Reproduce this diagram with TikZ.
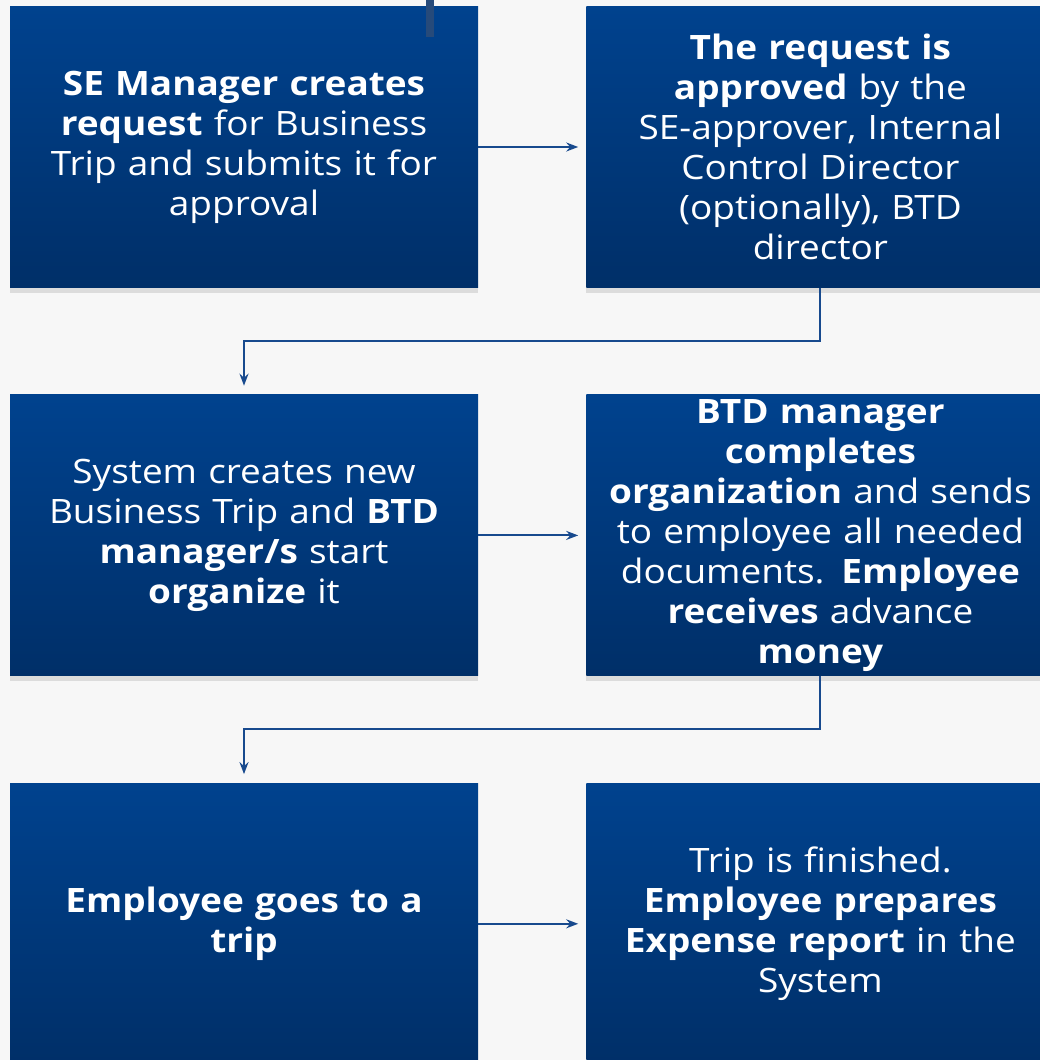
\documentclass[tikz,border=0pt]{standalone}
\usepackage{fontspec}
\setmainfont{Open Sans}[FakeStretch=1.1]
\usepackage{tikz}
\usetikzlibrary{arrows.meta,positioning,shadows}
\definecolor{boxtop}{RGB}{0,66,142}
\definecolor{boxbot}{RGB}{0,47,104}
\definecolor{flowln}{RGB}{24,74,142}
\definecolor{pagebg}{RGB}{247,247,247}
\definecolor{tabbar}{RGB}{38,74,122}
\tikzset{
  stepbox/.style={rectangle,minimum width=468pt,minimum height=281pt,inner sep=0pt,
                  text width=450pt,align=center,text=white,
                  top color=boxtop,bottom color=boxbot,
                  drop shadow={shadow xshift=0pt,shadow yshift=-5pt,opacity=.22},
                  font=\fontsize{33.6}{40}\selectfont},
  flow/.style={-{Stealth[length=12pt,width=9pt,inset=4pt]},line width=2pt,flowln},
}

\begin{document}
\begin{tikzpicture}[x=1pt,y=1pt]
  \useasboundingbox (0,0) rectangle (1040,-1060);
  \clip (0,0) rectangle (1040,-1060);
  \fill[pagebg] (0,0) rectangle (1040,-1060);
  % first row
  \node[stepbox] (request) at (244,-147)
    {\textbf{SE Manager creates}\\\textbf{request} for Business\\Trip and submits it for\\approval};
  \node[stepbox,right=108pt of request] (approve)
    {\textbf{The request is}\\\textbf{approved} by the\\SE-approver, Internal\\Control Director\\(optionally), BTD\\director};
  % second row
  \node[stepbox,below=107pt of request] (create)
    {System creates new\\Business Trip and \textbf{BTD}\\\textbf{manager/s} start\\\textbf{organize} it};
  \node[stepbox,right=108pt of create] (complete)
    {\textbf{BTD manager}\\\textbf{completes}\\\textbf{organization} and sends\\to employee all needed\\documents. \textbf{Employee}\\\textbf{receives} advance\\\textbf{money}};
  % third row
  \node[stepbox,below=107pt of create] (trip)
    {\textbf{Employee goes to a}\\\textbf{trip}};
  \node[stepbox,right=108pt of trip] (report)
    {Trip is finished.\\\textbf{Employee prepares}\\\textbf{Expense report} in the\\System};
  % small tab at top
  \fill[tabbar] (426,0) rectangle (434,-37);
  % connectors
  \draw[flow,shorten >=8pt] (request) -- (approve);
  \draw[flow,shorten >=8pt] (create) -- (complete);
  \draw[flow,shorten >=8pt] (trip) -- (report);
  \draw[flow,shorten >=9pt] (approve.south) -- ++(0,-53) -| (create.north);
  \draw[flow,shorten >=9pt] (complete.south) -- ++(0,-53) -| (trip.north);
\end{tikzpicture}
\end{document}
